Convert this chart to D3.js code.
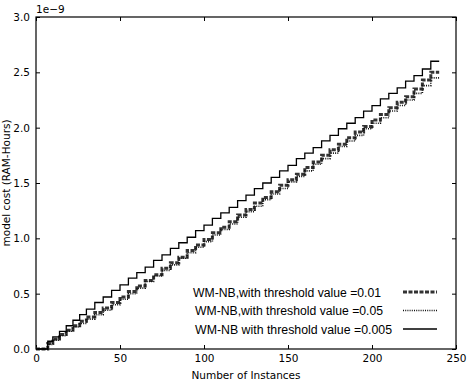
<!DOCTYPE html>
<html>
<head>
<meta charset="utf-8">
<script src="https://cdn.jsdelivr.net/npm/d3@7"></script>
<style>
  body { margin: 0; background: #fff; }
  svg { display: block; }
</style>
</head>
<body>
<svg id="chart"></svg>
<script>
// number of instances where the cost steps up
var instances = [0, 7, 10, 14, 18, 22, 26, 30, 35, 40, 45, 50, 55, 60, 65, 70, 75, 80, 85, 90,
  95, 100, 105, 110, 115, 120, 125, 130, 135, 140, 145, 150, 155, 160, 165, 170, 175, 180, 185,
  190, 195, 200, 205, 210, 215, 220, 225, 230, 235, 240];

// model cost in units of 1e-9 RAM-hours
var cost001 = [0, 0.05, 0.09, 0.13, 0.17, 0.21, 0.25, 0.29, 0.33, 0.37, 0.42, 0.47, 0.52, 0.57, 0.62, 0.67,
  0.73, 0.78, 0.83, 0.89, 0.94, 0.99, 1.05, 1.10, 1.15, 1.21, 1.26, 1.32, 1.37, 1.42, 1.48, 1.53, 1.58,
  1.64, 1.69, 1.75, 1.80, 1.85, 1.91, 1.96, 2.01, 2.07, 2.12, 2.18, 2.23, 2.28, 2.35, 2.43, 2.50, 2.50];
var cost005 = [0, 0.04, 0.08, 0.12, 0.16, 0.20, 0.23, 0.27, 0.31, 0.35, 0.40, 0.45, 0.50, 0.55, 0.61, 0.66,
  0.71, 0.76, 0.82, 0.87, 0.92, 0.97, 1.03, 1.08, 1.13, 1.19, 1.24, 1.29, 1.35, 1.40, 1.45, 1.51, 1.56,
  1.61, 1.67, 1.72, 1.77, 1.83, 1.88, 1.93, 1.99, 2.04, 2.09, 2.15, 2.20, 2.25, 2.31, 2.38, 2.45, 2.45];
var cost0005 = [0, 0.07, 0.11, 0.16, 0.21, 0.26, 0.31, 0.36, 0.42, 0.47, 0.53, 0.58, 0.64, 0.69, 0.74, 0.80,
  0.85, 0.91, 0.96, 1.01, 1.07, 1.12, 1.18, 1.23, 1.28, 1.34, 1.39, 1.45, 1.50, 1.55, 1.61, 1.66, 1.72,
  1.77, 1.82, 1.88, 1.93, 1.99, 2.04, 2.09, 2.15, 2.20, 2.26, 2.31, 2.36, 2.42, 2.47, 2.53, 2.60, 2.60];

var xTicks = [0, 50, 100, 150, 200, 250];
var yTicks = [0, 0.5, 1.0, 1.5, 2.0, 2.5, 3.0];
var seriesNames = ["WM-NB,with threshold value =0.01", "WM-NB,with threshold value =0.05", "WM-NB with threshold value =0.005"];

var margin = { top: 17, right: 18, bottom: 34, left: 36 },
    W = 474, H = 383,
    width = W - margin.left - margin.right,
    height = H - margin.top - margin.bottom;

var svg = d3.select("#chart").attr("width", W).attr("height", H);
var g = svg.append("g").attr("transform", "translate(" + margin.left + "," + margin.top + ")");

var x = d3.scaleLinear().domain([0, 250]).range([0, width]);
var y = d3.scaleLinear().domain([0, 3.0]).range([height, 0]);

var tickFont = "DejaVu Sans, sans-serif";

// axes, ticks pointing inward like matplotlib
var xAxis = g.append("g").attr("transform", "translate(0," + height + ")")
    .call(d3.axisBottom(x).tickValues(xTicks).tickSize(-4).tickPadding(6).tickFormat(d3.format("d")));
var xTop = g.append("g").call(d3.axisTop(x).tickValues(xTicks).tickSize(-4).tickFormat(""));
var yAxis = g.append("g")
    .call(d3.axisLeft(y).tickValues(yTicks).tickSize(-4).tickPadding(6).tickFormat(d3.format(".1f")));
var yRight = g.append("g").attr("transform", "translate(" + width + ",0)")
    .call(d3.axisRight(y).tickValues(yTicks).tickSize(-4).tickFormat(""));

[xAxis, xTop, yAxis, yRight].forEach(function (a) {
  a.select(".domain").remove();
  a.selectAll("line").attr("stroke", "#000");
  a.selectAll("text").attr("fill", "#000").style("font-family", tickFont).style("font-size", "10.5px");
});

g.append("rect").attr("width", width).attr("height", height)
  .attr("fill", "none").attr("stroke", "#000").attr("stroke-width", 1.2);

// lines
var series = [
  { values: cost001, dash: "4,1.5", sw: 3, color: "#333" },
  { values: cost005, dash: "1,1.2", sw: 1.6, color: "#111" },
  { values: cost0005, dash: null, sw: 1.3, color: "#000" }
];

var line = d3.line().curve(d3.curveStepAfter)
  .x(function (d) { return x(d[0]); })
  .y(function (d) { return y(d[1]); });

series.forEach(function (s) {
  var pts = instances.map(function (n, i) { return [n, s.values[i]]; });
  g.append("path").datum(pts)
    .attr("d", line)
    .attr("fill", "none")
    .attr("stroke", s.color)
    .attr("stroke-width", s.sw)
    .attr("stroke-dasharray", s.dash);
});

// exponent label
g.append("text").attr("x", 0).attr("y", -4)
  .text("1e\u22129").style("font-family", tickFont).style("font-size", "10.5px");

// axis titles
svg.append("text").attr("x", margin.left + width / 2).attr("y", H - 4)
  .attr("text-anchor", "middle").text("Number of Instances")
  .style("font-family", tickFont).style("font-size", "10.5px");
svg.append("text")
  .attr("transform", "translate(10," + (margin.top + height / 2) + ") rotate(-90)")
  .attr("text-anchor", "middle").text("model cost (RAM-Hours)")
  .style("font-family", tickFont).style("font-size", "10.5px");

// legend, no frame
var legend = g.append("g");
series.forEach(function (s, i) {
  var ly = 275 + i * 18.5;
  legend.append("text").attr("x", 157 + (i === 0 ? 0 : 2)).attr("y", ly + 4.5)
    .text(seriesNames[i])
    .style("font-family", "Liberation Sans, Arial, sans-serif").style("font-size", "12.5px")
    .attr("textLength", i === 2 ? 197 : 188).attr("lengthAdjust", "spacingAndGlyphs");
  legend.append("line")
    .attr("x1", 367).attr("x2", 401).attr("y1", ly).attr("y2", ly)
    .attr("stroke", s.color).attr("stroke-width", s.sw).attr("stroke-dasharray", s.dash);
});
</script>
</body>
</html>
